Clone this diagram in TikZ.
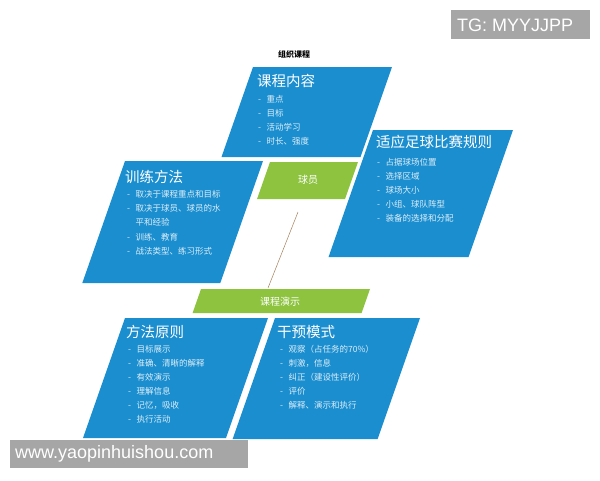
\documentclass[tikz,border=0pt]{standalone}
\usepackage{fontspec}
\setmainfont{Liberation Sans}
\newfontfamily\cjk{Noto Sans CJK SC}
\definecolor{boxblue}{RGB}{27,142,207}
\definecolor{boxgreen}{RGB}{141,195,63}
\definecolor{markgray}{RGB}{166,166,166}
\newcommand{\slab}[5]{\fill[#5] (#1,#2) -- ++(#3,0) -- ++({-0.35*#4},#4) -- ++(-#3,0) -- cycle;}
\newcommand{\dash}{\makebox[8.5pt][l]{-}}
\begin{document}
\begin{tikzpicture}[x=1pt,y=-1pt,
  head/.style={anchor=west,inner sep=0,text=white,font=\cjk\fontsize{14.5}{16}\selectfont},
  item/.style={anchor=west,inner sep=0,text=white!85!boxblue,font=\cjk\fontsize{8.5}{10}\selectfont},
  tag/.style={inner sep=0,text=white,font=\cjk\fontsize{10}{12}\selectfont},
  wmark/.style={anchor=west,inner sep=0,text=white,font=\fontsize{18}{20}\selectfont},
  link/.style={draw=brown!55!gray,line width=0.5pt}]
\useasboundingbox (0,0) rectangle (600,480);
\slab{253}{67}{139}{90}{boxblue}
\slab{373}{130}{140}{127}{boxblue}
\slab{125}{161}{138}{122}{boxblue}
\slab{270}{162}{88}{37}{boxgreen}
\slab{201}{289}{169}{24}{boxgreen}
\slab{125}{318}{143}{120}{boxblue}
\slab{275}{318}{145}{121}{boxblue}
\path node (title) at (294,54) [font=\cjk\bfseries\fontsize{8}{10}\selectfont] {组织课程}
      node (content) at (257,81) [head] {课程内容}
      node (rules) at (376,142) [head] {适应足球比赛规则}
      node (method) at (125,177) [head] {训练方法}
      node (principle) at (126,332) [head] {方法原则}
      node (mode) at (277,332) [head] {干预模式}
      node (player) at (308,180) [tag] {球员}
      node (demo) at (280,302) [tag] {课程演示}
;
\foreach \t [count=\i] in {重点,目标,活动学习,时长、强度}
  \node[item] (content\i) at (258,{85+14*\i}) {\dash\t};
\foreach \t [count=\i] in {占据球场位置,选择区域,球场大小,小组、球队阵型,装备的选择和分配}
  \node[item] (rules\i) at (377,{148+14*\i}) {\dash\t};
\foreach \y/\t [count=\i] in {194/取决于课程重点和目标,208/取决于球员、球员的水,237/训练、教育,251/战法类型、练习形式}
  \node[item] (method\i) at (127,\y) {\dash\t};
\node[item] (method2b) at (135.5,222) {平和经验};
\foreach \t [count=\i] in {目标展示,准确、清晰的解释,有效演示,理解信息,记忆，吸收,执行活动}
  \node[item] (principle\i) at (128,{335+14*\i}) {\dash\t};
\foreach \t [count=\i] in {观察（占任务的70\%）,刺激，信息,纠正（建设性评价）,评价,解释、演示和执行}
  \node[item] (mode\i) at (280,{335+14*\i}) {\dash\t};
\draw[link] ([shift={(-10,32)}]player.center) -- ([shift={(-12,-14)}]demo.center);
\fill[markgray] (451,10) rectangle (590,39);
\node[wmark] (tg) at (457,25) {TG: MYYJJPP};
\fill[markgray] (10,440) rectangle (248,468);
\node[wmark] (site) at (15,454) {www.yaopinhuishou.com};
\end{tikzpicture}
\end{document}
